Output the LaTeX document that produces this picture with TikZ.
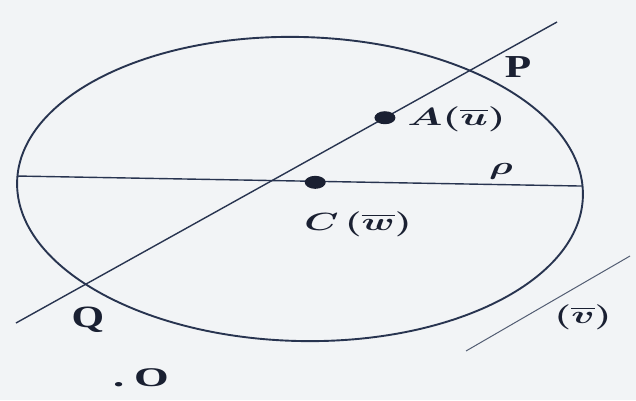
\documentclass[tikz,border=0pt]{standalone}
\usepackage{amsmath,bm}
\usepackage{fontspec}
\setmainfont{Liberation Serif}
\usetikzlibrary{calc,shapes.geometric}
\definecolor{ink}{RGB}{26,32,50}
\definecolor{linec}{RGB}{40,52,80}
\definecolor{paper}{RGB}{242,244,246}
\begin{document}
\begin{tikzpicture}[x=1pt,y=1pt,
  curve/.style={draw=linec,line width=1.9pt},
  thin/.style={draw=linec,line width=1.4pt},
  vline/.style={draw=linec!80,line width=1pt},
  dotmark/.style={ellipse,fill=ink,inner sep=0pt,minimum width=21pt,minimum height=13pt},
  mlab/.style={text=ink,inner sep=0pt,xscale=1.55,font=\fontsize{25}{27}\selectfont},
  rlab/.style={text=ink,inner sep=0pt,xscale=1.35,font=\fontsize{32}{34}\selectfont\bfseries}]
\fill[paper] (0,0) rectangle (636,400);
\useasboundingbox (0,0) rectangle (636,400);
% ellipse and chord
\begin{scope}[shift={(300,211)},rotate=-1.5]
  \draw[curve] (0,0) ellipse [x radius=283, y radius=152];
  \coordinate (L) at (177.9:283 and 152);
  \coordinate (R) at (3.9:283 and 152);
\end{scope}
\draw[thin] (L) -- (R);
% secant line
\coordinate (Lo) at (16,77);
\coordinate (Hi) at (557,378);
\draw[thin] (Lo) -- (Hi);
% line v
\coordinate (V1) at (466,49);
\coordinate (V2) at (630,144);
\draw[vline] (V1) -- (V2);
% points
\node[dotmark] (A) at ($(Lo)!0.682!(Hi)$) {};
\node[dotmark] (C) at ($(L)!0.527!(R)+(0,-1)$) {};
% labels
\node[mlab,anchor=west,xscale=1.05] (Alab) at (407,281) {$\bm{A(\overline{u})}$};
\node[mlab] (Clab) at (358,176) {$\bm{C\,(\overline{w})}$};
\node[mlab,font=\fontsize{34}{36}\selectfont] (rho) at (501,229) {$\bm{\rho}$};
\node[mlab,font=\fontsize{26}{28}\selectfont] (vlab) at (583,83) {$\bm{(\overline{v})}$};
\node[rlab] (P) at (518,333) {P};
\node[rlab,font=\fontsize{31}{33}\selectfont\bfseries] (Q) at (88,80) {Q};
\node[text=ink,inner sep=0pt,font=\fontsize{27}{29}\selectfont\bfseries,anchor=west] (O) at (113,22) {\scalebox{1.65}[1]{.\hspace{6pt}O}};
\end{tikzpicture}
\end{document}
